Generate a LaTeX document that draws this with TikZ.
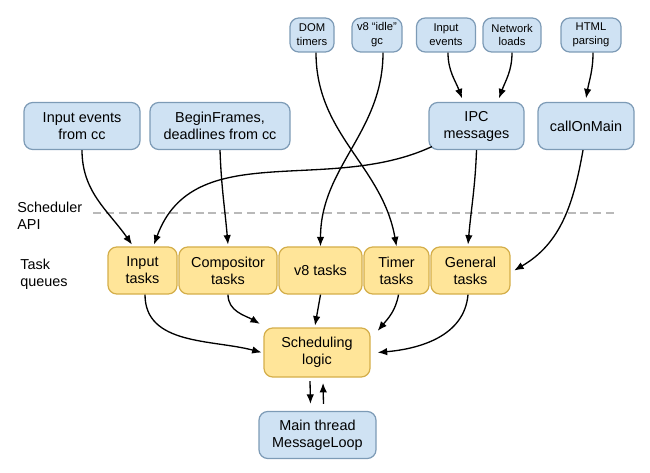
\documentclass[tikz,border=0pt]{standalone}
\usepackage{fontspec}
\setmainfont{Liberation Sans}
\usetikzlibrary{arrows.meta}

\definecolor{srcfill}{HTML}{CFE2F3}
\definecolor{srcline}{HTML}{7D9BB6}
\definecolor{qfill}{HTML}{FFE599}
\definecolor{qline}{HTML}{D4AE4A}

\begin{document}
\begin{tikzpicture}[
src/.style={rectangle, rounded corners=5pt, draw=srcline, fill=srcfill, line width=0.7pt, align=center, minimum height=0.94cm, inner sep=2pt, font=\fontsize{8.2}{9.7}\selectfont},
tiny/.style={src, minimum height=0.68cm, font=\fontsize{6.4}{7.9}\selectfont},
queue/.style={src, draw=qline, fill=qfill},
lbl/.style={anchor=west, align=left, inner sep=0pt, font=\fontsize{8.2}{9.7}\selectfont},
flow/.style={-{Latex[length=1.9mm,width=1.5mm]}, line width=0.75pt}]
\useasboundingbox (0,0) rectangle (13,9.44);

%Sources
\node [tiny, minimum width=0.88cm] (dom) at (6.24,8.74) {DOM\\timers};
\node [tiny, minimum width=1.0cm] (idle) at (7.54,8.74) {v8 “idle”\\gc};
\node [tiny, minimum width=1.18cm] (ievents) at (8.92,8.74) {Input\\events};
\node [tiny, minimum width=1.16cm] (net) at (10.24,8.74) {Network\\loads};
\node [tiny, minimum width=1.2cm] (html) at (11.82,8.74) {HTML\\parsing};

\node [src, minimum width=2.32cm] (cc) at (1.64,6.92) {Input events\\from cc};
\node [src, minimum width=2.8cm] (frames) at (4.4,6.92) {BeginFrames,\\deadlines from cc};
\node [src, minimum width=1.9cm] (ipc) at (9.53,6.92) {IPC\\messages};
\node [src, minimum width=1.92cm] (onmain) at (11.72,6.92) {callOnMain};

%API
\draw [gray!55, line width=0.8pt, dash pattern=on 4.5pt off 2.8pt] (1.86,5.18) -- (12.3,5.18);
\node [lbl] (api) at (0.34,5.12) {Scheduler\\API};
\node [lbl] (tq) at (0.4,3.96) {Task\\queues};

%Queues
\node [queue, minimum width=1.38cm] (qinput) at (2.85,4.03) {Input\\tasks};
\node [queue, minimum width=1.96cm] (qcomp) at (4.56,4.03) {Compositor\\tasks};
\node [queue, minimum width=1.66cm] (qv8) at (6.41,4.03) {v8 tasks};
\node [queue, minimum width=1.3cm] (qtimer) at (7.93,4.03) {Timer\\tasks};
\node [queue, minimum width=1.58cm] (qgen) at (9.41,4.03) {General\\tasks};

\node [queue, minimum width=2.12cm, minimum height=0.98cm] (sched) at (6.34,2.39) {Scheduling\\logic};
\node [src, minimum width=2.34cm] (loop) at (6.35,0.74) {Main thread\\MessageLoop};

%Arrows into the queues
\draw [flow] ([xshift=0.08cm]dom.south) to[out=-90, in=100] (qtimer.north);
\draw [flow] ([xshift=0.12cm]idle.south) to[out=-90, in=90] (qv8.north);
\draw [flow] ([xshift=0.04cm]ievents.south) to[out=-90, in=110] ([xshift=-0.29cm, yshift=2pt]ipc.north);
\draw [flow] (net.south) to[out=-90, in=70] ([xshift=0.45cm, yshift=2pt]ipc.north);
\draw [flow] ([xshift=0.04cm]html.south) to[out=-90, in=80] ([yshift=2pt]onmain.north);
\draw [flow] (cc.south) to[out=-90, in=125] ([xshift=-0.21cm, yshift=1pt]qinput.north);
\draw [flow] (frames.south) to[out=-88, in=95] ([yshift=1pt]qcomp.north);
\draw [flow] ([xshift=2pt, yshift=2pt]ipc.south west) to[out=205, in=70] ([xshift=0.23cm, yshift=1pt]qinput.north);
\draw [flow] (ipc.south) to[out=-92, in=85] ([xshift=-0.05cm, yshift=1pt]qgen.north);
\draw [flow] ([xshift=-0.06cm]onmain.south) to[out=-100, in=30] ([xshift=2pt]qgen.east);

%Arrows into the scheduler
\draw [flow] ([xshift=0.05cm]qinput.south) to[out=-90, in=165] ([xshift=-1pt]sched.west);
\draw [flow] (qcomp.south) to[out=-90, in=150] ([xshift=-2pt, yshift=2pt]sched.north west);
\draw [flow] (qv8.south) -- ([xshift=-0.04cm, yshift=1pt]sched.north);
\draw [flow] ([xshift=0.04cm]qtimer.south) to[out=-100, in=50] ([xshift=4pt, yshift=-2pt]sched.north east);
\draw [flow] ([xshift=-0.05cm]qgen.south) to[out=-95, in=5] ([xshift=4pt]sched.east);

%Message loop
\draw [flow] ([xshift=-0.14cm, yshift=-2pt]sched.south) -- ([xshift=-0.14cm, yshift=4pt]loop.north);
\draw [flow] ([xshift=0.12cm, yshift=4pt]loop.north) -- ([xshift=0.12cm, yshift=-3pt]sched.south);
\end{tikzpicture}
\end{document}
